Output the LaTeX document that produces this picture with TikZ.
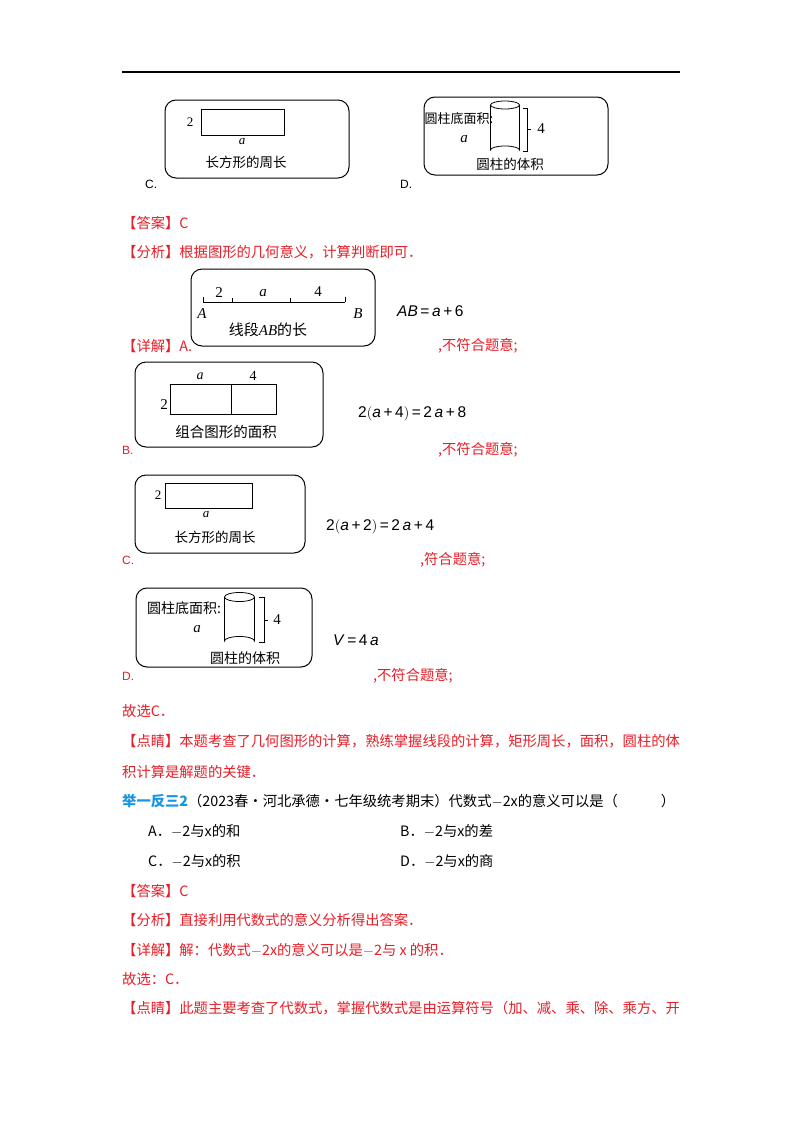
\documentclass[tikz,border=0pt]{standalone}
\usepackage{fontspec}
\setmainfont{Liberation Serif}
\newfontfamily\cjk{Noto Sans CJK SC}
\newfontfamily\lsans{Liberation Sans}
\definecolor{ansred}{RGB}{230,30,40}
\definecolor{qblue}{RGB}{20,150,225}
\begin{document}
\begin{tikzpicture}[x=1pt,y=-1pt,
  fig/.style={draw,line width=1pt,rounded corners=11pt},
  shp/.style={draw,line width=0.8pt},
  lab/.style={font=\fontsize{13}{13}\selectfont,inner sep=0pt},
  clab/.style={font=\cjk\fontsize{13.5}{14}\selectfont,inner sep=0pt},
  red/.style={font=\cjk\fontsize{14.3}{15}\selectfont,text=ansred,inner sep=0pt,anchor=west},
  blk/.style={font=\cjk\fontsize{14.3}{15}\selectfont,inner sep=0pt,anchor=west},
  eq/.style={font=\lsans\fontsize{15.5}{16}\selectfont,inner sep=0pt,anchor=west}]
\useasboundingbox (0,0) rectangle (800,1132);
\fill[white] (0,0) rectangle (800,1132);
\draw[line width=1.2pt] (122,72) -- (680,72);

% top C
\draw[fig] (165,100) rectangle (349,178);
\draw[shp] (201,109) rectangle (284,135);
\node[lab] (c1two) at (190,122) {2};
\node[lab] (c1a) at (242,142) {\itshape a};
\node[clab] (c1t) at (246,162) {长方形的周长};
\node[blk,font=\lsans\fontsize{12}{12}\selectfont] (c1l) at (145,184) {C.};

% top D
\draw[fig] (424,97) rectangle (608,175);
\node[clab,font=\cjk\fontsize{13}{13}\selectfont] (d1t1) at (459,119) {圆柱底面积:};
\node[lab,font=\fontsize{15}{15}\selectfont] (d1a) at (464,139) {\itshape a};
\draw[shp] (505,105) ellipse [x radius=14.5, y radius=4];
\draw[shp] (490.5,105) -- (490.5,150) arc[start angle=180,end angle=360,x radius=14.5,y radius=4] -- (519.5,105);
\draw[shp] (523,108) -- (527,108) -- (527,151) -- (523,151) (527,129) -- (531,129);
\node[lab,font=\fontsize{15}{15}\selectfont] (d1four) at (541,129) {4};
\node[clab] (d1t2) at (510,164) {圆柱的体积};
\node[blk,font=\lsans\fontsize{12}{12}\selectfont] (d1l) at (400,184) {D.};

\node[red] (ans1) at (122,223) {【答案】C};
\node[red] (ana1) at (122,252) {【分析】根据图形的几何意义，计算判断即可．};

% A box
\draw[fig] (191,269) rectangle (375,346);
\coordinate (pA) at (203,302); \coordinate (pB) at (345,302);
\draw[shp] (pA) -- (pB);
\draw[shp] (pA) -- ++(0,-5) (232,302) -- ++(0,-4) (290,302) -- ++(0,-4) (pB) -- ++(0,-5);
\node[lab,font=\fontsize{15}{15}\selectfont] (a2) at (219,293) {2};
\node[lab,font=\fontsize{15}{15}\selectfont] (aa) at (263,293) {\itshape a};
\node[lab,font=\fontsize{15}{15}\selectfont] (a4) at (318,292) {4};
\node[lab,font=\fontsize{15}{15}\selectfont] (aA) at (202,314) {\itshape A};
\node[lab,font=\fontsize{15}{15}\selectfont] (aB) at (358,314) {\itshape B};
\node[clab,font=\cjk\fontsize{15}{15}\selectfont] (at) at (268,330) {线段\textit{\rmfamily AB}的长};
\node[eq] (aeq) at (397,311) {\textit{AB}\,=\,\textit{a}\,+\,6};
\node[red] (xa) at (122,346) {【详解】A.};
\node[red] (xa2) at (438,346) {,不符合题意;};

% B box
\draw[fig] (135,362) rectangle (323,447);
\draw[shp] (170,384) rectangle (276,414);
\draw[shp] (231,384) -- (231,414);
\node[lab,font=\fontsize{14}{14}\selectfont] (ba) at (200,376) {\itshape a};
\node[lab,font=\fontsize{14}{14}\selectfont] (b4) at (253,376) {4};
\node[lab,font=\fontsize{15}{15}\selectfont] (b2) at (164,405) {2};
\node[clab,font=\cjk\fontsize{14.5}{15}\selectfont] (bt) at (226,432) {组合图形的面积};
\node[eq] (beq) at (358,414) {2$\big($\textit{a}\,+\,4$\big)$\,=\,2\,\textit{a}\,+\,8};
\node[red,font=\lsans\fontsize{12}{12}\selectfont] (bl) at (122,450) {B.};
\node[red] (bl2) at (438,450) {,不符合题意;};

% C box
\draw[fig] (135,475) rectangle (305,553);
\draw[shp] (165,483) rectangle (252,508);
\node[lab] (c2two) at (158,495) {2};
\node[lab] (c2a) at (206,515) {\itshape a};
\node[clab] (c2t) at (215,537) {长方形的周长};
\node[eq] (ceq) at (326,527) {2$\big($\textit{a}\,+\,2$\big)$\,=\,2\,\textit{a}\,+\,4};
\node[red,font=\lsans\fontsize{12}{12}\selectfont] (cl) at (122,560) {C.};
\node[red] (cl2) at (420,560) {,符合题意;};

% D box
\draw[fig] (136,588) rectangle (312,667);
\node[clab,font=\cjk\fontsize{14}{14}\selectfont] (d2t1) at (184,608) {圆柱底面积:};
\node[lab,font=\fontsize{15}{15}\selectfont] (d2a) at (197,629) {\itshape a};
\draw[shp] (239.5,597) ellipse [x radius=15, y radius=4.5];
\draw[shp] (224.5,597) -- (224.5,641) arc[start angle=180,end angle=360,x radius=15,y radius=4.5] -- (254.5,597);
\draw[shp] (259,597) -- (264,597) -- (264,642) -- (259,642) (264,620) -- (268,620);
\node[lab,font=\fontsize{15}{15}\selectfont] (d2four) at (277,620) {4};
\node[clab,font=\cjk\fontsize{14}{14}\selectfont] (d2t2) at (245,658) {圆柱的体积};
\node[eq] (deq) at (333,640) {\textit{V}\,=\,4\,\textit{a}};
\node[red,font=\lsans\fontsize{12}{12}\selectfont] (dl) at (122,676) {D.};
\node[red] (dl2) at (373,676) {,不符合题意;};

\node[red] (gx1) at (122,711) {故选C．};
\node[red] (dj1) at (122,741) {【点睛】本题考查了几何图形的计算，熟练掌握线段的计算，矩形周长，面积，圆柱的体};
\node[red] (dj1b) at (122,772) {积计算是解题的关键．};

\node[blk] (q) at (122,801) {{\color{qblue}\bfseries 举一反三2}（2023春·河北承德·七年级统考期末）代数式$-$2\textit{x}的意义可以是（\qquad\quad）};
\node[blk] (oA) at (148,831) {A．$-$2与\textit{x}的和};
\node[blk] (oB) at (400,831) {B．$-$2与\textit{x}的差};
\node[blk] (oC) at (148,861) {C．$-$2与\textit{x}的积};
\node[blk] (oD) at (400,861) {D．$-$2与\textit{x}的商};

\node[red] (ans2) at (122,891) {【答案】C};
\node[red] (ana2) at (122,920) {【分析】直接利用代数式的意义分析得出答案．};
\node[red] (xj2) at (122,950) {【详解】解：代数式$-$2\textit{x}的意义可以是$-$2与 x 的积．};
\node[red] (gx2) at (122,979) {故选：C．};
\node[red] (dj2) at (122,1008) {【点睛】此题主要考查了代数式，掌握代数式是由运算符号（加、减、乘、除、乘方、开};
\end{tikzpicture}
\end{document}
